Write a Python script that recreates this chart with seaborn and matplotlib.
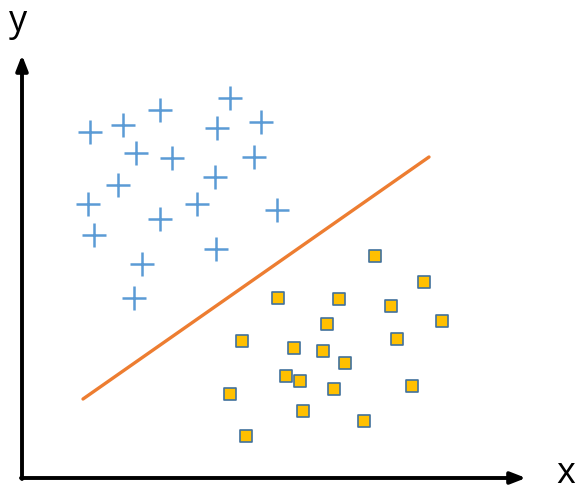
import pandas as pd
import matplotlib.pyplot as plt
import seaborn as sns

# Points (coordonnées en pixels, y vers le bas)
plus_x = [90, 123, 160, 230, 217, 261, 136, 172, 254, 118, 215, 88, 160, 197, 277, 94, 142, 216, 134]
plus_y = [132, 125, 110, 98, 128, 122, 153, 158, 157, 185, 177, 204, 219, 204, 210, 235, 264, 249, 298]

square_x = [375, 424, 278, 339, 391, 442, 327, 397, 242, 294, 323, 345, 286, 300, 334, 412, 230, 303, 364, 246]
square_y = [256, 282, 298, 299, 306, 321, 324, 339, 341, 348, 351, 363, 376, 381, 389, 386, 394, 411, 421, 436]

line_x = [83, 429]
line_y = [399, 157]

plus_df = pd.DataFrame({'x': plus_x, 'y': plus_y})
square_df = pd.DataFrame({'x': square_x, 'y': square_y})
line_df = pd.DataFrame({'x': line_x, 'y': line_y})

sns.set_style('white')
fig = plt.figure(figsize=(5.79, 4.93), dpi=100)
ax = fig.add_axes([0, 0, 1, 1])
ax.set_xlim(0, 579)
ax.set_ylim(493, 0)

# Axes avec flèches
ax.annotate('', xy=(22, 55), xytext=(22, 479),
            arrowprops=dict(arrowstyle='-|>,head_length=0.9,head_width=0.35', color='black', lw=2.8, shrinkA=0, shrinkB=0))
ax.annotate('', xy=(526, 478), xytext=(21, 478),
            arrowprops=dict(arrowstyle='-|>,head_length=0.9,head_width=0.35', color='black', lw=2.8, shrinkA=0, shrinkB=0))
ax.text(18, 22, 'y', fontsize=26, ha='center', va='center', family='Open Sans', color='black')
ax.text(566, 474, 'x', fontsize=26, ha='center', va='center', family='Open Sans', color='black')

sns.lineplot(data=line_df, x='x', y='y', color='#ED7D31', linewidth=2.4, ax=ax)
sns.scatterplot(data=plus_df, x='x', y='y', marker='+', s=320, color='#5B9BD5', linewidth=1.8, ax=ax)
sns.scatterplot(data=square_df, x='x', y='y', marker='s', s=74, color='#FFC000', edgecolor='#41719C', linewidth=1.2, ax=ax)

ax.axis('off')
plt.savefig('out.png', dpi=100)
plt.close()
